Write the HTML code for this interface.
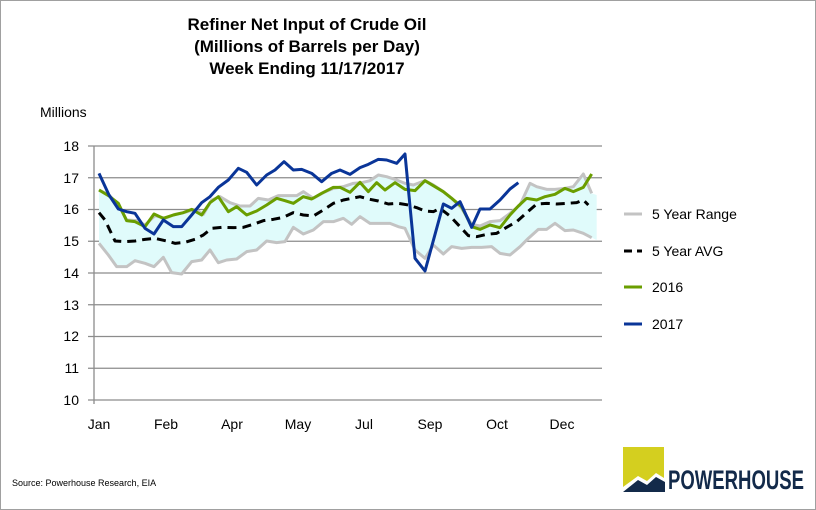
<!DOCTYPE html>
<html><head><meta charset="utf-8"><style>
body{margin:0;background:#fff;}
svg{display:block;font-family:"Liberation Sans",Arial,sans-serif;}
</style></head><body>
<svg width="816" height="510" viewBox="0 0 816 510" xmlns="http://www.w3.org/2000/svg">
<rect x="0.5" y="0.5" width="815" height="509" fill="#fff" stroke="#a0a0a0"/>
<g font-weight="bold" font-size="17" text-anchor="middle" fill="#000">
<text x="307" y="30">Refiner Net Input of Crude Oil</text>
<text x="307" y="52">(Millions of Barrels per Day)</text>
<text x="307" y="74">Week Ending 11/17/2017</text>
</g>
<text x="40" y="117" font-size="14">Millions</text>
<g stroke="#8c8c8c" stroke-width="1.3">
<line x1="88" y1="146" x2="602" y2="146"/><line x1="88" y1="177.75" x2="602" y2="177.75"/>
<line x1="88" y1="209.5" x2="602" y2="209.5"/><line x1="88" y1="241.25" x2="602" y2="241.25"/>
<line x1="88" y1="273" x2="602" y2="273"/><line x1="88" y1="304.75" x2="602" y2="304.75"/>
<line x1="88" y1="336.5" x2="602" y2="336.5"/><line x1="88" y1="368.25" x2="602" y2="368.25"/>
<line x1="88" y1="400" x2="602" y2="400"/><line x1="94" y1="146" x2="94" y2="404"/>
</g>
<g font-size="14" text-anchor="end">
<text x="79" y="151">18</text><text x="79" y="183">17</text><text x="79" y="214">16</text>
<text x="79" y="246">15</text><text x="79" y="278">14</text><text x="79" y="310">13</text>
<text x="79" y="341">12</text><text x="79" y="373">11</text><text x="79" y="405">10</text>
</g>
<g font-size="14" text-anchor="middle">
<text x="99" y="429">Jan</text><text x="166" y="429">Feb</text><text x="232" y="429">Apr</text>
<text x="298" y="429">May</text><text x="364" y="429">Jul</text><text x="430" y="429">Sep</text>
<text x="497" y="429">Oct</text><text x="562" y="429">Dec</text>
</g>
<g transform="translate(80,130) scale(0.3333333)" fill="none" stroke-linejoin="round">
<path fill="#e0fbfb" stroke="none" d="M57,180 87,195 115,225 140,270 170,272 195,285 225,257 255,265 285,253 315,247 345,238 370,253 395,210 420,200 450,218 480,228 510,228 535,205 565,210 595,197 625,197 650,197 670,185 700,205 730,188 760,175 790,170 820,160 845,158 870,152 895,135 920,140 950,150 975,160 1000,165 1035,152 1060,165 1090,185 1115,205 1145,235 1175,283 1200,288 1230,275 1260,272 1290,250 1320,225 1350,160 1370,170 1400,178 1425,178 1455,175 1480,170 1510,132 1535,190 1550,195 L1550,330 1535,323 1510,310 1480,300 1455,302 1425,280 1400,298 1375,298 1345,325 1320,350 1290,375 1260,370 1235,350 1205,352 1175,352 1145,355 1115,350 1090,372 1060,345 1035,385 1005,360 975,295 955,290 930,280 900,280 870,280 840,260 815,283 790,265 760,275 730,275 700,300 670,312 640,292 615,335 590,338 560,333 530,360 500,365 470,387 440,390 415,398 390,360 365,390 335,395 305,432 275,428 250,382 222,410 195,400 165,392 140,410 110,410 85,375 57,340Z"/>
<g stroke="#c3c3c3" stroke-width="3" vector-effect="non-scaling-stroke">
<path vector-effect="non-scaling-stroke" d="M57,180 87,195 115,225 140,270 170,272 195,285 225,257 255,265 285,253 315,247 345,238 370,253 395,210 420,200 450,218 480,228 510,228 535,205 565,210 595,197 625,197 650,197 670,185 700,205 730,188 760,175 790,170 820,160 845,158 870,152 895,135 920,140 950,150 975,160 1000,165 1035,152 1060,165 1090,185 1115,205 1145,235 1175,283 1200,288 1230,275 1260,272 1290,250 1320,225 1350,160 1370,170 1400,178 1425,178 1455,175 1480,170 1510,132 1535,190"/>
<path vector-effect="non-scaling-stroke" d="M57,340 85,375 110,410 140,410 165,392 195,400 222,410 250,382 275,428 305,432 335,395 365,390 390,360 415,398 440,390 470,387 500,365 530,360 560,333 590,338 615,335 640,292 670,312 700,300 730,275 760,275 790,265 815,283 840,260 870,280 900,280 930,280 955,290 975,295 1005,360 1035,385 1060,345 1090,372 1115,350 1145,355 1175,352 1205,352 1235,350 1260,370 1290,375 1320,350 1345,325 1375,298 1400,298 1425,280 1455,302 1480,300 1510,310 1535,323"/>
</g>
<path vector-effect="non-scaling-stroke" stroke="#000" stroke-width="3" stroke-dasharray="9,6" d="M57,248 75,270 105,333 135,335 165,333 195,328 225,325 260,333 285,340 315,337 345,328 370,315 395,295 425,292 460,293 490,292 520,283 550,272 580,268 610,262 640,248 670,255 700,258 730,240 760,220 790,210 815,205 840,200 865,207 895,213 925,222 955,220 985,225 1010,233 1035,243 1060,245 1080,235 1110,258 1140,290 1165,317 1190,320 1220,313 1250,310 1280,292 1310,275 1340,248 1370,222 1400,220 1430,222 1460,220 1490,218 1510,210 1525,225"/>
<path vector-effect="non-scaling-stroke" stroke="#6a9e00" stroke-width="3" d="M57,180 87,198 115,220 140,272 165,275 195,290 222,252 250,265 280,255 310,248 335,238 365,255 390,218 415,200 445,245 470,230 500,255 530,243 560,225 590,205 615,212 640,220 670,200 695,207 725,190 760,172 780,172 810,187 840,157 865,185 890,158 915,180 945,158 975,178 1005,182 1035,152 1060,167 1090,185 1115,205 1145,230 1175,290 1200,298 1230,285 1260,293 1290,255 1315,228 1340,205 1370,210 1395,200 1425,193 1455,175 1480,185 1510,172 1535,132"/>
<path vector-effect="non-scaling-stroke" stroke="#0a3598" stroke-width="3" d="M57,130 87,195 115,237 140,245 165,250 195,295 222,312 250,270 280,290 305,290 335,255 365,218 390,200 415,172 445,150 475,115 500,127 530,165 560,135 585,120 612,95 640,120 665,118 695,130 725,155 755,130 780,120 810,133 840,113 865,103 895,88 920,90 950,100 975,72 1005,385 1035,423 1090,222 1115,235 1140,215 1175,292 1200,237 1230,237 1260,210 1290,177 1315,158"/>
</g>
<g stroke-width="3">
<line x1="624" y1="214" x2="642" y2="214" stroke="#c3c3c3"/>
<line x1="624" y1="251" x2="642" y2="251" stroke="#000" stroke-dasharray="8,5"/>
<line x1="624" y1="287" x2="642" y2="287" stroke="#6a9e00"/>
<line x1="624" y1="324" x2="642" y2="324" stroke="#0a3598"/>
</g>
<g font-size="14">
<text x="652" y="219">5 Year Range</text><text x="652" y="256">5 Year AVG</text>
<text x="652" y="292">2016</text><text x="652" y="329">2017</text>
</g>
<text x="12" y="486" font-size="9">Source: Powerhouse Research, EIA</text>
<polygon points="623,447 664,447 664,478 656,473 647,481 638,476 623,487" fill="#d4cf1f"/>
<polygon points="623,492 638,480 647,485 656,477 665,482 665,492" fill="#132a4a"/>
<text x="668" y="489" font-size="27" font-weight="bold" fill="#132a4a" textLength="136" lengthAdjust="spacingAndGlyphs">POWERHOUSE</text>
</svg>
</body></html>
